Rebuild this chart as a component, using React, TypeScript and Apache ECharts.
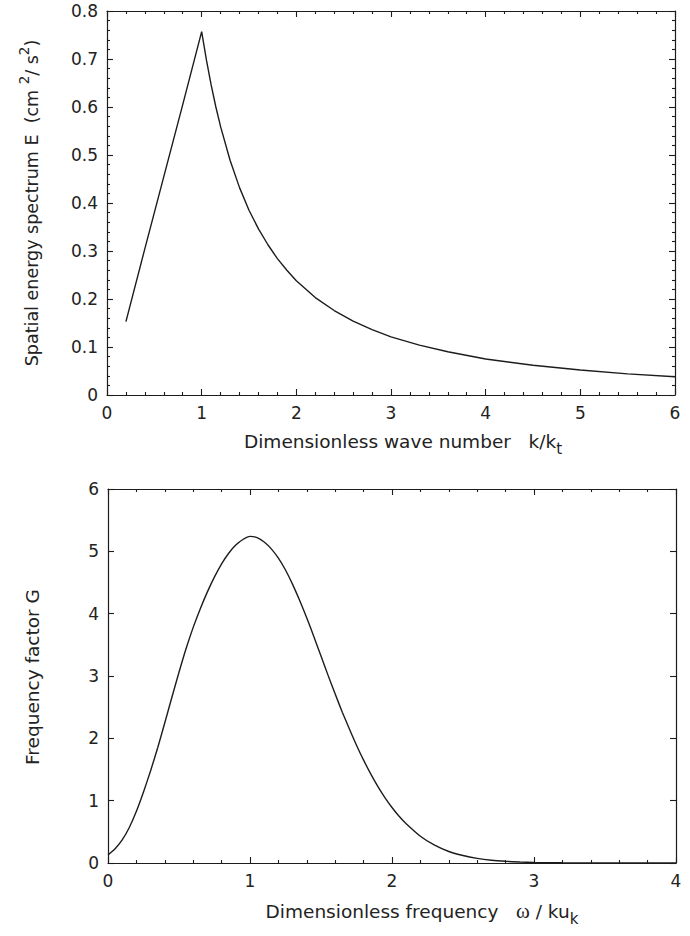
import React, { useEffect, useRef } from 'react';
import * as echarts from 'echarts';

// Top panel: spatial energy spectrum E vs dimensionless wave number k/k_t
const waveK = [0.2, 0.4, 0.6, 0.8, 1.0, 1.05, 1.1, 1.15, 1.2, 1.3, 1.4, 1.5, 1.6, 1.7, 1.8, 1.9, 2.0, 2.2, 2.4, 2.6, 2.8, 3.0, 3.3, 3.6, 4.0, 4.5, 5.0, 5.5, 6.0];
const energyE = [0.153, 0.305, 0.455, 0.605, 0.757, 0.698, 0.646, 0.600, 0.559, 0.489, 0.432, 0.385, 0.346, 0.313, 0.284, 0.260, 0.238, 0.203, 0.176, 0.154, 0.136, 0.121, 0.104, 0.090, 0.075, 0.062, 0.052, 0.044, 0.038];

// Bottom panel: frequency factor G vs dimensionless frequency omega / k u_k
const freqW = [0, 0.05, 0.1, 0.15, 0.2, 0.25, 0.3, 0.35, 0.4, 0.45, 0.5, 0.55, 0.6, 0.65, 0.7, 0.75, 0.8, 0.85, 0.9, 0.95, 1.0, 1.05, 1.1, 1.15, 1.2, 1.25, 1.3, 1.35, 1.4, 1.45, 1.5, 1.55, 1.6, 1.65, 1.7, 1.75, 1.8, 1.85, 1.9, 1.95, 2.0, 2.05, 2.1, 2.2, 2.3, 2.4, 2.5, 2.6, 2.7, 2.8, 2.9, 3.0, 3.2, 3.5, 4.0];
const factorG = [0.13, 0.23, 0.37, 0.57, 0.83, 1.14, 1.48, 1.85, 2.25, 2.66, 3.06, 3.44, 3.78, 4.08, 4.35, 4.59, 4.80, 4.97, 5.10, 5.19, 5.24, 5.22, 5.15, 5.04, 4.89, 4.70, 4.47, 4.21, 3.93, 3.63, 3.32, 3.01, 2.71, 2.42, 2.15, 1.89, 1.65, 1.43, 1.23, 1.05, 0.89, 0.75, 0.63, 0.43, 0.285, 0.185, 0.12, 0.075, 0.045, 0.027, 0.016, 0.009, 0.003, 0.0005, 0];

// Axis ranges: min, max, major interval, minor subdivisions (1 = none)
const topXAxis = { min: 0, max: 6, interval: 1, split: 5 };
const topYAxis = { min: 0, max: 0.8, interval: 0.1, split: 5 };
const botXAxis = { min: 0, max: 4, interval: 1, split: 5 };
const botYAxis = { min: 0, max: 6, interval: 1, split: 1 };

const MAJOR_LEN = 6;
const MINOR_LEN = 3;

export default function App() {
  const ref = useRef<HTMLDivElement>(null);
  useEffect(() => {
    document.body.style.margin = '0';
    const chart = echarts.init(ref.current!, null, { renderer: 'svg' });
    const font = 'DejaVu Sans';
    const ink = '#1c1c1c';

    const axisBase = (gridIndex: number, ax: any, position: string, showLabel: boolean) => ({
      type: 'value',
      gridIndex,
      position,
      min: ax.min,
      max: ax.max,
      interval: ax.interval,
      axisLine: { show: true, onZero: false, lineStyle: { color: ink, width: 1.2 } },
      axisTick: { show: true, inside: true, length: MAJOR_LEN, lineStyle: { color: ink, width: 1.1 } },
      minorTick: { show: ax.split > 1, splitNumber: ax.split, length: MINOR_LEN, lineStyle: { color: ink, width: 1.1 } },
      splitLine: { show: false },
      minorSplitLine: { show: false },
      axisLabel: { show: showLabel, color: '#222', fontFamily: font, fontSize: 17, margin: 9 },
    });

    const nStyle = { fontFamily: font, fontSize: 18.5, lineHeight: 30, verticalAlign: 'middle', fill: '#222', color: '#222' };
    const nyStyle = { fontFamily: font, fontSize: 17.5, lineHeight: 30, verticalAlign: 'middle', fill: '#222', color: '#222' };
    const supStyle = { fontFamily: font, fontSize: 13.5, lineHeight: 12, verticalAlign: 'top', fill: '#222', color: '#222' };
    const subStyle = { fontFamily: font, fontSize: 15, lineHeight: 12, verticalAlign: 'bottom', fill: '#222', color: '#222' };
    const wStyle = { fontFamily: 'Liberation Serif', fontSize: 21, lineHeight: 30, verticalAlign: 'middle', fill: '#222', color: '#222' };
    const rich = { n: nStyle, ny: nyStyle, sup: supStyle, sub: subStyle, w: wStyle };
    const sp = '\u00a0';

    const option: any = {
      animation: false,
      backgroundColor: '#ffffff',
      grid: [
        { left: 107, top: 11, width: 568, height: 384 },
        { left: 108, top: 489, width: 568, height: 374 },
      ],
      xAxis: [
        axisBase(0, topXAxis, 'bottom', true),
        axisBase(0, topXAxis, 'top', false),
        axisBase(1, botXAxis, 'bottom', true),
        axisBase(1, botXAxis, 'top', false),
      ],
      yAxis: [
        axisBase(0, topYAxis, 'left', true),
        axisBase(0, topYAxis, 'right', false),
        axisBase(1, botYAxis, 'left', true),
        axisBase(1, botYAxis, 'right', false),
      ],
      series: [
        {
          type: 'line',
          xAxisIndex: 0,
          yAxisIndex: 0,
          showSymbol: false,
          symbol: 'none',
          lineStyle: { color: ink, width: 1.4 },
          data: waveK.map((k, i) => [k, energyE[i]]),
        },
        {
          type: 'line',
          xAxisIndex: 2,
          yAxisIndex: 2,
          showSymbol: false,
          symbol: 'none',
          smooth: 0.2,
          lineStyle: { color: ink, width: 1.4 },
          data: freqW.map((w, i) => [w, factorG[i]]),
        },
      ],
      graphic: [
        {
          type: 'text',
          x: 403,
          y: 441,
          style: {
            text: `{n|Dimensionless wave number${sp}${sp}${sp}k/k}{sub|t}`,
            rich,
            align: 'center',
            verticalAlign: 'middle',
          },
        },
        {
          type: 'text',
          x: 422,
          y: 911,
          style: {
            text: `{n|Dimensionless frequency${sp}${sp}${sp}}{w|ω}{n|${sp}/${sp}ku}{sub|k}`,
            rich,
            align: 'center',
            verticalAlign: 'middle',
          },
        },
        {
          type: 'text',
          x: 32,
          y: 203,
          rotation: Math.PI / 2,
          style: {
            text: `{ny|Spatial energy spectrum E${sp}${sp}(cm${sp}}{sup|2}{ny|/${sp}s}{sup|2}{ny|)}`,
            rich,
            align: 'center',
            verticalAlign: 'middle',
          },
        },
        {
          type: 'text',
          x: 32,
          y: 677,
          rotation: Math.PI / 2,
          style: {
            text: `{n|Frequency factor G}`,
            rich,
            align: 'center',
            verticalAlign: 'middle',
          },
        },
      ],
    };
    chart.setOption(option);
    return () => chart.dispose();
  }, []);
  return <div ref={ref} style={{ width: 690, height: 936 }} />;
}
